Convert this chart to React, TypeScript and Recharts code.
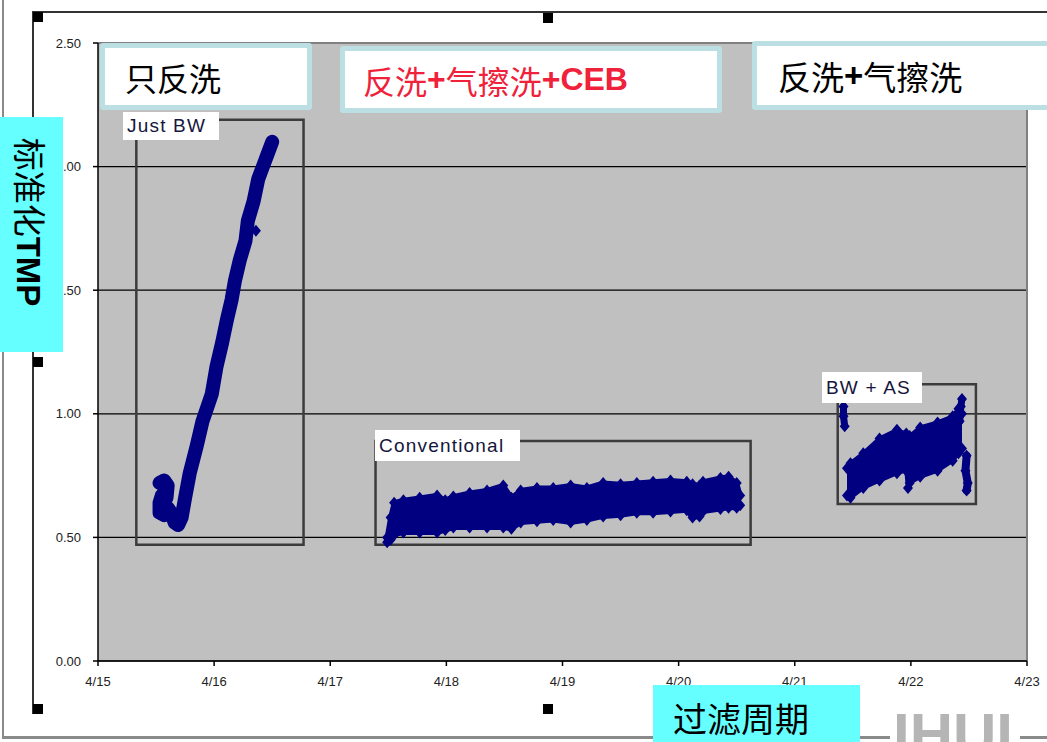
import React from "react";
import {
    ComposedChart,
    Line,
    Area,
    Scatter,
    XAxis,
    YAxis,
    CartesianGrid,
    ReferenceArea,
    ReferenceLine,
} from "recharts";

const NAVY = "#000080";
const CJK = "'Noto Sans CJK SC', 'Noto Sans', sans-serif";
const LATIN = "'Liberation Sans', Arial, sans-serif";

const X_TICKS = [15, 16, 17, 18, 19, 20, 21, 22, 23];
const Y_TICKS = [0, 0.5, 1, 1.5, 2, 2.5];

// "Just BW" run, points in the order the trace runs (day of April, TMP)
const bwDays = [15.53, 15.57, 15.6, 15.59, 15.55, 15.53, 15.53, 15.57, 15.6, 15.63, 15.66, 15.69, 15.72, 15.75, 15.79, 15.85, 15.9, 15.98, 16.02, 16.07, 16.11, 16.15, 16.18, 16.22, 16.27, 16.29, 16.34, 16.38, 16.42, 16.46, 16.5];
const bwTmp = [0.72, 0.73, 0.71, 0.66, 0.67, 0.64, 0.6, 0.59, 0.62, 0.6, 0.56, 0.55, 0.58, 0.66, 0.76, 0.87, 0.97, 1.08, 1.19, 1.29, 1.38, 1.46, 1.54, 1.62, 1.7, 1.78, 1.86, 1.95, 2.0, 2.05, 2.1];
const bwStrayDays = [16.36, 16.14];
const bwStrayTmp = [1.74, 1.42];

// "Conventional" run: lower and upper edge of the point cloud
const convDays = [17.49, 17.52, 17.55, 17.63, 17.77, 17.92, 17.99, 18.06, 18.2, 18.35, 18.49, 18.56, 18.64, 18.78, 18.92, 19.07, 19.21, 19.35, 19.5, 19.64, 19.78, 19.93, 20.07, 20.12, 20.18, 20.21, 20.36, 20.43, 20.5, 20.53];
const convLow = [0.48, 0.49, 0.51, 0.52, 0.52, 0.52, 0.53, 0.54, 0.54, 0.54, 0.54, 0.535, 0.56, 0.565, 0.57, 0.56, 0.57, 0.585, 0.59, 0.6, 0.6, 0.605, 0.61, 0.58, 0.585, 0.605, 0.615, 0.62, 0.62, 0.63];
const convHigh = [0.5, 0.58, 0.64, 0.65, 0.66, 0.67, 0.65, 0.665, 0.68, 0.69, 0.71, 0.66, 0.69, 0.7, 0.7, 0.71, 0.7, 0.72, 0.715, 0.72, 0.725, 0.73, 0.725, 0.715, 0.71, 0.725, 0.74, 0.745, 0.72, 0.67];

// "BW + AS" run
const asDays = [21.45, 21.48, 21.59, 21.73, 21.88, 21.96, 21.975, 21.99, 22.08, 22.23, 22.36, 22.41, 22.44];
const asLow = [0.67, 0.66, 0.7, 0.73, 0.76, 0.77, 0.7, 0.72, 0.745, 0.77, 0.81, 0.84, 0.86];
const asHigh = [0.78, 0.8, 0.84, 0.9, 0.935, 0.92, 0.87, 0.91, 0.945, 0.965, 0.99, 1.02, 1.0];

// short streaks at both ends of the BW + AS run
const asStartDays = [21.42, 21.42, 21.43];
const asStartTmp = [1.03, 0.99, 0.95];
const asSpikeDays = [22.42, 22.43, 22.44];
const asSpikeTmp = [0.97, 1.03, 1.06];
const asTailDays = [22.48, 22.47, 22.49, 22.48];
const asTailTmp = [0.83, 0.77, 0.72, 0.69];

// annotation frames drawn round each run (day range, TMP range)
const frames = [
    { key: "bw", x1: 15.33, x2: 16.77, y1: 0.47, y2: 2.19 },
    { key: "conv", x1: 17.39, x2: 20.62, y1: 0.47, y2: 0.89 },
    { key: "as", x1: 21.37, x2: 22.56, y1: 0.635, y2: 1.12 },
];

const toPoints = (days: number[], vals: number[]) => days.map((t, i) => ({ t, v: vals[i] }));

const bwData = toPoints(bwDays, bwTmp);
const convData = convDays.map((t, i) => ({ t, range: [convLow[i], convHigh[i]] }));
const asData = asDays.map((t, i) => ({ t, range: [asLow[i], asHigh[i]] }));
const asStartData = toPoints(asStartDays, asStartTmp);
const asSpikeData = toPoints(asSpikeDays, asSpikeTmp);
const asTailData = toPoints(asTailDays, asTailTmp);

const dots = [
    ...bwData,
    ...toPoints(bwStrayDays, bwStrayTmp),
    ...toPoints(convDays, convLow),
    ...toPoints(convDays, convHigh),
    ...toPoints(asDays, asLow),
    ...toPoints(asDays, asHigh),
    ...asStartData,
    ...asSpikeData,
    ...asTailData,
];

const diamond = (props: any) => {
    const { cx, cy } = props;
    if (cx == null || cy == null) return <g />;
    return <path d={`M${cx},${cy - 6}L${cx + 5},${cy}L${cx},${cy + 6}L${cx - 5},${cy}Z`} fill={NAVY} />;
};

const tickStyle = { fontSize: 13, fill: "#222", fontFamily: LATIN };

function TitleBox(props: { left: number; top: number; width: number; height: number; pad: number; color: string; size: number; children: React.ReactNode }) {
    return (
        <div
            style={{
                position: "absolute",
                left: props.left,
                top: props.top,
                width: props.width,
                height: props.height,
                boxSizing: "border-box",
                border: "5px solid #bcdfe4",
                borderRadius: 3,
                background: "#fff",
                display: "flex",
                alignItems: "center",
                paddingLeft: props.pad,
                color: props.color,
                fontSize: props.size,
                fontFamily: CJK,
                whiteSpace: "nowrap",
            }}
        >
            {props.children}
        </div>
    );
}

function RunLabel(props: { left: number; top: number; width: number; height: number; text: string }) {
    return (
        <div
            style={{
                position: "absolute",
                left: props.left,
                top: props.top,
                width: props.width,
                height: props.height,
                background: "#fff",
                display: "flex",
                alignItems: "center",
                paddingLeft: 4,
                boxSizing: "border-box",
                fontFamily: LATIN,
                fontSize: 19,
                letterSpacing: 1.2,
                color: "#16163c",
                whiteSpace: "nowrap",
            }}
        >
            {props.text}
        </div>
    );
}

const Bold = ({ children }: { children: React.ReactNode }) => (
    <span style={{ fontFamily: LATIN, fontWeight: 700 }}>{children}</span>
);

const box = (left: number, top: number, width: number, height: number, bg: string): React.CSSProperties => ({
    position: "absolute",
    left,
    top,
    width,
    height,
    background: bg,
});

export default function App() {
    return (
        <div style={{ position: "absolute", left: 0, top: 0, width: 1047, height: 742, overflow: "hidden", background: "#fff" }}>
            {/* slide frame and selection handles */}
            <div style={box(2, 0, 2, 738, "#8a8a8a")} />
            <div style={box(2, 736, 1045, 3, "#8a8a8a")} />
            <div style={box(32, 11, 1015, 2, "#333")} />
            <div style={box(32, 11, 2, 703, "#333")} />
            <div style={box(33, 12, 10, 10, "#000")} />
            <div style={box(543, 13, 10, 10, "#000")} />
            <div style={box(33, 357, 10, 10, "#000")} />
            <div style={box(33, 704, 10, 10, "#000")} />
            <div style={box(543, 704, 10, 10, "#000")} />

            <div style={{ position: "absolute", left: 0, top: 0 }}>
                <ComposedChart width={1047} height={742} margin={{ top: 43, right: 20, bottom: 51, left: 38 }}>
                    <CartesianGrid vertical={false} stroke="#000" strokeWidth={1.2} fill="#c0c0c0" fillOpacity={1} />
                    <XAxis
                        type="number"
                        dataKey="t"
                        domain={[15, 23]}
                        ticks={X_TICKS}
                        tickFormatter={(v) => `4/${v}`}
                        stroke="#000"
                        strokeWidth={1.5}
                        tickSize={5}
                        tickMargin={11}
                        height={30}
                        fontSize={13}
                        fontFamily={LATIN}
                        tick={tickStyle}
                        allowDataOverflow
                    />
                    <YAxis
                        type="number"
                        domain={[0, 2.5]}
                        ticks={Y_TICKS}
                        tickFormatter={(v) => Number(v).toFixed(2)}
                        stroke="#000"
                        strokeWidth={1.5}
                        tickSize={5}
                        tickMargin={12}
                        width={60}
                        fontSize={13}
                        fontFamily={LATIN}
                        tick={tickStyle}
                        allowDataOverflow
                    />
                    <ReferenceLine y={2.5} stroke="#808080" strokeWidth={2} />
                    <ReferenceLine x={23} stroke="#808080" strokeWidth={2} />
                    {frames.map((f) => (
                        <ReferenceArea
                            key={f.key}
                            x1={f.x1}
                            x2={f.x2}
                            y1={f.y1}
                            y2={f.y2}
                            fill="none"
                            fillOpacity={0}
                            stroke="#3c3c3c"
                            strokeWidth={2.5}
                        />
                    ))}
                    <Area data={convData} dataKey="range" type="linear" fill={NAVY} fillOpacity={1} stroke={NAVY} strokeWidth={5} isAnimationActive={false} />
                    <Area data={asData} dataKey="range" type="linear" fill={NAVY} fillOpacity={1} stroke={NAVY} strokeWidth={4} isAnimationActive={false} />
                    <Line data={bwData} dataKey="v" type="linear" stroke={NAVY} strokeWidth={14} strokeLinejoin="round" strokeLinecap="round" dot={false} isAnimationActive={false} />
                    <Line data={asStartData} dataKey="v" type="linear" stroke={NAVY} strokeWidth={7} strokeLinecap="round" dot={false} isAnimationActive={false} />
                    <Line data={asSpikeData} dataKey="v" type="linear" stroke={NAVY} strokeWidth={7} strokeLinecap="round" dot={false} isAnimationActive={false} />
                    <Line data={asTailData} dataKey="v" type="linear" stroke={NAVY} strokeWidth={8} strokeLinecap="round" dot={false} isAnimationActive={false} />
                    <Scatter data={dots} dataKey="v" shape={diamond} isAnimationActive={false} />
                </ComposedChart>
            </div>

            {/* run labels */}
            <RunLabel left={123} top={112} width={96} height={28} text="Just BW" />
            <RunLabel left={375} top={430} width={145} height={31} text="Conventional" />
            <RunLabel left={822} top={372} width={100} height={31} text="BW + AS" />

            {/* title boxes */}
            <TitleBox left={100} top={43} width={212} height={67} pad={20} color="#000" size={32}>
                只反洗
            </TitleBox>
            <TitleBox left={340} top={46} width={382} height={67} pad={18} color="#f0213a" size={32}>
                反洗<Bold>+</Bold>气擦洗<Bold>+CEB</Bold>
            </TitleBox>
            <TitleBox left={752} top={41} width={300} height={69} pad={21} color="#000" size={33}>
                反洗<Bold>+</Bold>气擦洗
            </TitleBox>

            {/* axis titles */}
            <div style={box(0, 117, 63, 235, "#66ffff")} />
            <div
                style={{
                    position: "absolute",
                    left: 29,
                    top: 222,
                    transform: "translate(-50%, -50%) rotate(90deg)",
                    whiteSpace: "nowrap",
                    fontFamily: CJK,
                    fontSize: 33,
                    lineHeight: 1,
                    color: "#000",
                }}
            >
                标准化<Bold>TMP</Bold>
            </div>
            <div
                style={{
                    ...box(653, 685, 207, 64, "#66ffff"),
                    display: "flex",
                    alignItems: "center",
                    paddingLeft: 20,
                    boxSizing: "border-box",
                    fontFamily: CJK,
                    fontSize: 34,
                    color: "#000",
                }}
            >
                过滤周期
            </div>

            {/* watermark */}
            <div style={box(890, 703, 130, 39, "#fff")} />
            <div
                style={{
                    position: "absolute",
                    left: 893,
                    top: 705,
                    fontFamily: LATIN,
                    fontWeight: 700,
                    fontSize: 60,
                    lineHeight: 1,
                    color: "#b5b5b5",
                }}
            >
                IHUI
            </div>
        </div>
    );
}
